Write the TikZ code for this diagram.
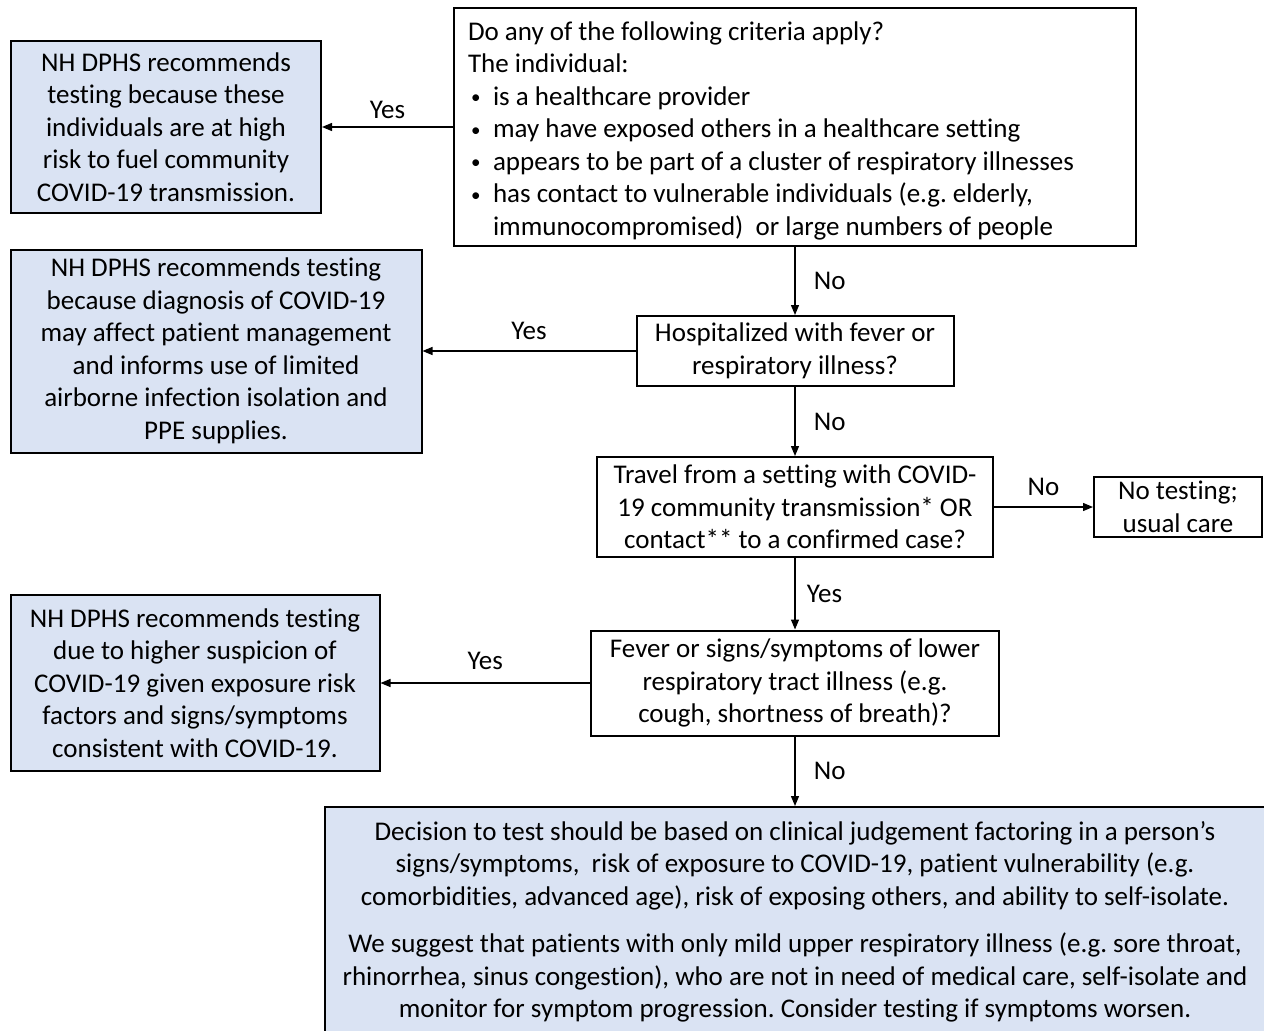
\documentclass[tikz,border=0pt]{standalone}
\usepackage{fontspec}
\setmainfont{Carlito}[Ligatures=NoCommon]
\usepackage{tikz}
\usetikzlibrary{arrows.meta,positioning}
\definecolor{dphsblue}{HTML}{DAE3F3}
\newcommand{\critbullet}{\makebox[25pt][l]{\hspace{3pt}\raisebox{1.5pt}{\fontsize{19}{19}\selectfont\textbullet}}}
\frenchspacing

\begin{document}
\begin{tikzpicture}[x=1pt,y=-1pt,>={Triangle[length=10pt,width=8pt]},
    every node/.style={font=\fontsize{27}{32.5}\selectfont},
    question/.style={draw,line width=2pt,fill=white,align=center,inner sep=0pt},
    advice/.style={draw,line width=2pt,fill=dphsblue,align=center,inner sep=0pt},
    flow/.style={->,line width=1.3pt}]
    \useasboundingbox (0,0) rectangle (1264,1031);

    % questions down the middle
    \node[question,align=flush left,text width=654pt,inner xsep=14pt,minimum height=238pt] (crit) at (795,127)
        {\rule{0pt}{26pt}Do any of the following criteria apply?\\
         The individual:\\
         \critbullet is a healthcare provider\\
         \critbullet may have exposed others in a healthcare setting\\
         \critbullet appears to be part of a cluster of respiratory illnesses\\
         \critbullet has contact to vulnerable individuals (e.g. elderly,\\
         \hspace*{25pt}immunocompromised)~ or large numbers of people};
    \node[question,minimum width=317pt,minimum height=70pt] (hosp) at (795,351)
        {Hospitalized with fever or\\respiratory illness?};
    \node[question,minimum width=396pt,minimum height=100pt] (travel) at (795,507)
        {Travel from a setting with COVID-\\19 community transmission* OR\\contact** to a confirmed case?};
    \node[question,minimum width=168pt,minimum height=60pt] (notest) at (1178,507)
        {No testing;\\usual care};
    \node[question,minimum width=408pt,minimum height=105pt] (fever) at (795,683)
        {Fever or signs/symptoms of lower\\respiratory tract illness (e.g.\\cough, shortness of breath)?};

    % recommendations
    \node[advice,minimum width=310pt,minimum height=172pt] (testA) at (166,127)
        {NH DPHS recommends\\testing because these\\individuals are at high\\risk to fuel community\\COVID-19 transmission.};
    \node[advice,minimum width=411pt,minimum height=203pt] (testB) at (216,351)
        {NH DPHS recommends testing\\because diagnosis of COVID-19\\may affect patient management\\and informs use of limited\\airborne infection isolation and\\PPE supplies.};
    \node[advice,minimum width=369pt,minimum height=176pt] (testC) at (195,683)
        {NH DPHS recommends testing\\due to higher suspicion of\\COVID-19 given exposure risk\\factors and signs/symptoms\\consistent with COVID-19.};
    \node[advice,anchor=north,minimum width=940pt,minimum height=230pt] (judge) at (795,806)
        {Decision to test should be based on clinical judgement factoring in a person’s\\
         signs/symptoms,~ risk of exposure to COVID-19, patient vulnerability (e.g.\\
         comorbidities, advanced age), risk of exposing others, and ability to self-isolate.\\[15pt]
         We suggest that patients with only mild upper respiratory illness (e.g. sore throat,\\
         rhinorrhea, sinus congestion), who are not in need of medical care, self-isolate and\\
         monitor for symptom progression. Consider testing if symptoms worsen.};

    % connectors
    \draw[flow] (crit.west) -- node[above=4pt] {Yes} (testA.east);
    \draw[flow] (crit.south) -- node[right,xshift=15pt] {No} (hosp.north);
    \draw[flow] (hosp.west) -- node[above=7pt] {Yes} (testB.east);
    \draw[flow] (hosp.south) -- node[right,xshift=15pt] {No} (travel.north);
    \draw[flow] (travel.east) -- node[above=7pt] {No} (notest.west);
    \draw[flow] (travel.south) -- node[right,xshift=8pt] {Yes} (fever.north);
    \draw[flow] (fever.west) -- node[above=9pt] {Yes} (testC.east);
    \draw[flow] (fever.south) -- node[right,xshift=15pt] {No} (judge.north);
\end{tikzpicture}
\end{document}
